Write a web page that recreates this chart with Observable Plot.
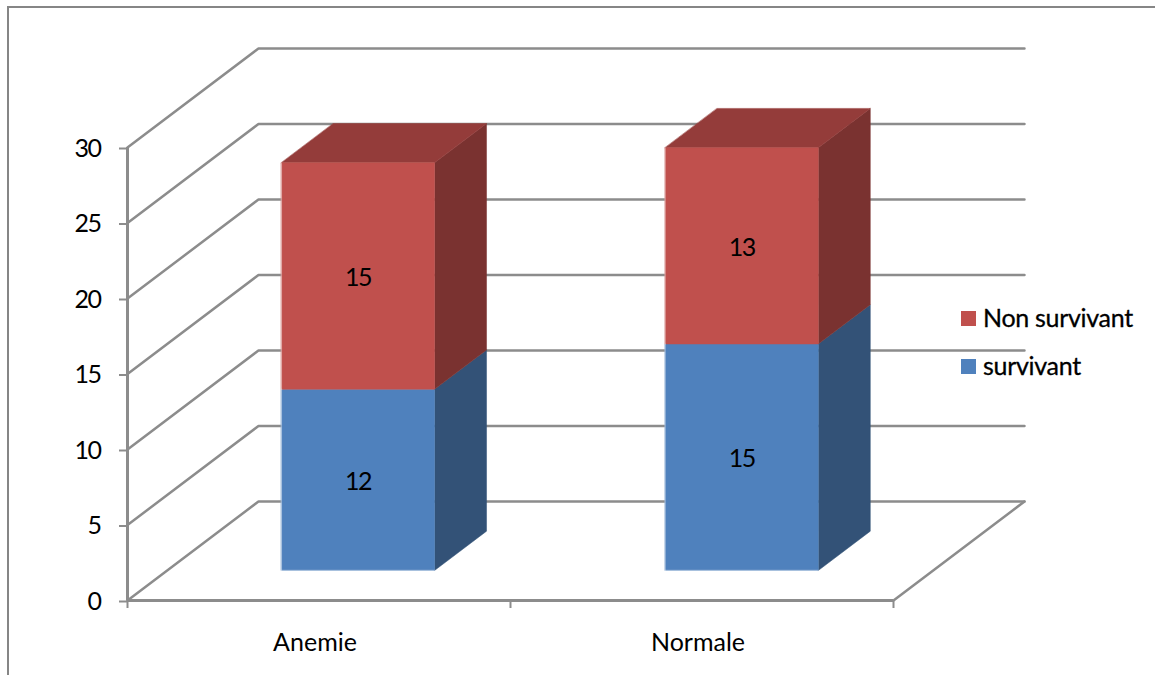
<!DOCTYPE html>
<html>
<head>
<meta charset="utf-8">
<script src="https://cdn.jsdelivr.net/npm/d3@7"></script>
<script src="https://cdn.jsdelivr.net/npm/@observablehq/plot@0.6"></script>
<style>
  html, body { margin: 0; background: #fff; }
  #page { position: relative; width: 1155px; height: 675px; overflow: hidden; font-family: Lato, sans-serif; color: #000; }
  #border { position: absolute; left: 7px; top: 6px; right: -4px; bottom: -4px; border: 2px solid #868686; }
  #chart { position: absolute; left: 0; top: 0; }
  #chart svg { overflow: visible; background: transparent; }
  #chart text { -webkit-text-stroke: 0.3px #000; }
  #chart .digits text, #chart g[aria-label="y-axis tick label"] text { letter-spacing: -1.5px; }
  .key { position: absolute; left: 961px; font-size: 25px; line-height: 30px; white-space: nowrap; letter-spacing: -0.3px; -webkit-text-stroke: 0.3px #000; }
  .key i { position: absolute; left: 0; top: 8px; width: 15px; height: 15px; }
  .key span { position: absolute; left: 22px; top: -1px; }
</style>
</head>
<body>
<div id="page">
  <div id="border"></div>
  <div id="chart"></div>
  <div class="key" style="top:303px"><i style="background:#C0504D"></i><span>Non survivant</span></div>
  <div class="key" style="top:351px"><i style="background:#4F81BD"></i><span>survivant</span></div>
</div>
<script>
const categories = ["Anemie", "Normale"];
const survivant = [12, 15];
const nonSurvivant = [15, 13];
const yTicks = [0, 5, 10, 15, 20, 25, 30];

const fontFamily = "Lato, sans-serif";
const gridColor = "#8C8C8C";

// Oblique projection: depth z (0 front, 1 back wall) shifts a point in data units.
const depthX = 0.342;
const depthY = 6.556;
const project = (x, y, z) => ({x: x + z * depthX, y: y + z * depthY});

// Bars sit in the middle of the floor, 40% of a category wide.
const barHalf = 0.2;
const barFront = 0.303;
const barBack = 0.70;

const seriesList = [
  {name: "survivant", values: survivant, front: "#4F81BD", side: "#335277", top: "#3F6797"},
  {name: "Non survivant", values: nonSurvivant, front: "#C0504D", side: "#7A3230", top: "#943C3A"}
];

function facePoints(id, fill, corners) {
  return corners.map(([x, y, z]) => ({id, fill, ...project(x, y, z)}));
}

const backFaces = [];
const frontFaces = [];
const edges = [];
const labels = [];

categories.forEach((category, i) => {
  const centre = i + 0.498 + i * 0.002;
  const x0 = centre - barHalf;
  const x1 = centre + barHalf;
  let base = 0;
  seriesList.forEach((s, j) => {
    const top = base + s.values[i];
    const key = `${category}-${s.name}`;
    backFaces.push(...facePoints(`${key}-side`, s.side, [
      [x1, base, barFront], [x1, base, barBack], [x1, top, barBack], [x1, top, barFront]
    ]));
    if (j === seriesList.length - 1) {
      backFaces.push(...facePoints(`${key}-top`, s.top, [
        [x0, top, barFront], [x1, top, barFront], [x1, top, barBack], [x0, top, barBack]
      ]));
    }
    frontFaces.push(...facePoints(`${key}-front`, s.front, [
      [x0, base, barFront], [x1, base, barFront], [x1, top, barFront], [x0, top, barFront]
    ]));
    edges.push(
      {id: `${key}-edge`, ...project(x0, top, barFront)},
      {id: `${key}-edge`, ...project(x0, base, barFront)}
    );
    labels.push({...project(centre, base + s.values[i] / 2, barFront), value: s.values[i]});
    base = top;
  });
  edges.push(
    {id: `${category}-floor`, ...project(x0, 0, barFront)},
    {id: `${category}-floor`, ...project(x1, 0, barFront)}
  );
});

// Wall grid: each level runs back along the side wall, then across the back wall.
const gridLines = yTicks.flatMap((v) => [
  {id: v, ...project(0, v, 0)},
  {id: v, ...project(0, v, 1)},
  {id: v, ...project(categories.length, v, 1)}
]);
const floorEdge = [project(categories.length, 0, 0), project(categories.length, 0, 1)];

const faceMark = (data) => Plot.line(data, {
  x: "x", y: "y", z: "id", fill: "fill", stroke: "fill",
  strokeWidth: 0.5, curve: "linear-closed"
});

const chart = Plot.plot({
  width: 1155,
  height: 675,
  marginLeft: 127,
  marginRight: 262,
  marginTop: 147,
  marginBottom: 75,
  style: {fontFamily, background: "transparent"},
  x: {domain: [0, categories.length]},
  y: {domain: [0, 30]},
  color: {type: "identity"},
  marks: [
    Plot.line(gridLines, {x: "x", y: "y", z: "id", stroke: gridColor, strokeWidth: 2.5}),
    Plot.line(floorEdge, {x: "x", y: "y", stroke: gridColor, strokeWidth: 2.5}),
    faceMark(backFaces),
    faceMark(frontFaces),
    Plot.line(edges, {x: "x", y: "y", z: "id", stroke: "#fff", strokeOpacity: 0.35, strokeWidth: 1.5}),
    Plot.ruleX([0], {stroke: gridColor, strokeWidth: 3}),
    Plot.ruleY([0], {stroke: gridColor, strokeWidth: 3}),
    Plot.axisY({
      ticks: yTicks, tickSize: 8, tickPadding: 19, label: null, dy: 1,
      fontSize: 25, stroke: gridColor, strokeWidth: 2, fill: "#000", fontFamily
    }),
    Plot.axisX({
      ticks: [0, 1, 2], tickSize: 8, tickFormat: () => "", label: null,
      stroke: gridColor, strokeWidth: 2
    }),
    Plot.axisX({
      ticks: [0.5, 1.5],
      tickFormat: (d) => categories[Math.floor(d)],
      tickSize: 0, tickPadding: 33, dx: -4, label: null,
      fontSize: 25, fill: "#000", fontFamily
    }),
    Plot.text(labels, {
      x: "x", y: "y", text: (d) => String(d.value), dy: 2, className: "digits",
      fontSize: 25, fill: "#000", fontFamily
    })
  ]
});

document.getElementById("chart").appendChild(chart);
</script>
</body>
</html>
